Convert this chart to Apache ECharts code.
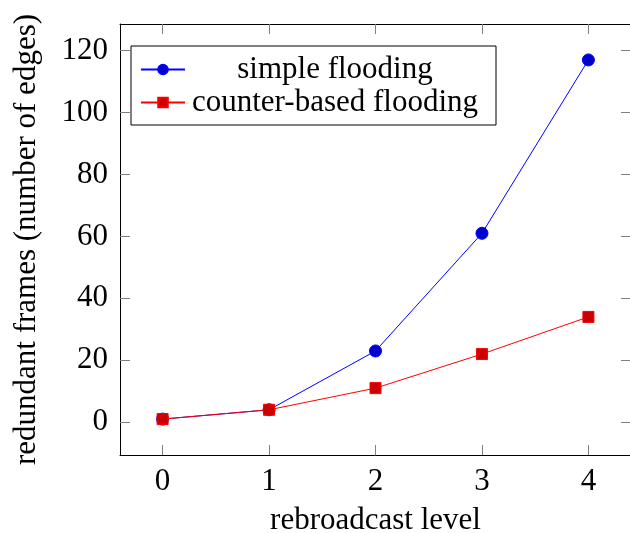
<!DOCTYPE html>
<html>
<head>
<meta charset="utf-8">
<script src="https://cdn.jsdelivr.net/npm/echarts@6/dist/echarts.min.js"></script>
<style>
  html, body { margin: 0; padding: 0; background: #fff; overflow: hidden; }
  #chart { width: 630px; height: 533px; }
</style>
</head>
<body>
<div id="chart"></div>
<script>
// Rebroadcast levels and the redundant frames counted at each level
const levels = [0, 1, 2, 3, 4];
const simpleFlooding = [1, 4, 23, 61, 117];
const counterBasedFlooding = [1, 4, 11, 22, 34];
const xTicks = [0, 1, 2, 3, 4];
const yTicks = [0, 20, 40, 60, 80, 100, 120];
const seriesNames = ['simple flooding', 'counter-based flooding'];

const FONT = 'Liberation Serif';
const FS = 31;
const tickStyle = { show: true, inside: true, length: 10, lineStyle: { color: '#808080', width: 1 } };

function pairs(xs, ys) {
  return xs.map((x, i) => [x, ys[i]]);
}

const chart = echarts.init(document.getElementById('chart'), null, { renderer: 'canvas' });

chart.setOption({
  animation: false,
  backgroundColor: '#ffffff',
  grid: {
    left: 120, top: 24, right: -1, bottom: 78,
    show: false, containLabel: false, outerBoundsMode: 'none'
  },
  legend: {
    orient: 'vertical',
    left: 131,
    top: 46,
    padding: [8, 16, 7, 9],
    itemGap: 2,
    itemWidth: 44,
    itemHeight: 12,
    backgroundColor: '#ffffff',
    borderColor: '#000000',
    borderWidth: 1,
    borderRadius: 0,
    data: seriesNames,
    formatter: name => '{t|' + name + '}',
    textStyle: {
      rich: {
        t: { width: 290, align: 'center', fontFamily: FONT, fontSize: FS, lineHeight: 34, color: '#000' }
      }
    }
  },
  xAxis: [
    {
      type: 'value', min: -0.4, max: 4.4, position: 'bottom',
      name: 'rebroadcast level', nameLocation: 'middle', nameGap: 50,
      nameTextStyle: { fontFamily: FONT, fontSize: FS, color: '#000' },
      axisLine: { show: true, onZero: false, lineStyle: { color: '#000', width: 1 } },
      axisTick: Object.assign({ customValues: xTicks }, tickStyle),
      axisLabel: { customValues: xTicks, margin: 11, fontFamily: FONT, fontSize: FS, color: '#000' },
      splitLine: { show: false }
    },
    {
      type: 'value', min: -0.4, max: 4.4, position: 'top',
      axisLine: { show: true, onZero: false, lineStyle: { color: '#000', width: 1 } },
      axisTick: Object.assign({ customValues: xTicks }, tickStyle),
      axisLabel: { show: false },
      splitLine: { show: false }
    }
  ],
  yAxis: [
    {
      type: 'value', min: -10.6, max: 128.6, position: 'left',
      name: 'redundant frames (number of edges)', nameLocation: 'middle', nameGap: 78,
      nameTextStyle: { fontFamily: FONT, fontSize: FS, color: '#000' },
      axisLine: { show: true, onZero: false, lineStyle: { color: '#000', width: 1 } },
      axisTick: Object.assign({ customValues: yTicks }, tickStyle),
      axisLabel: { customValues: yTicks, margin: 12, fontFamily: FONT, fontSize: FS, color: '#000' },
      splitLine: { show: false }
    },
    {
      type: 'value', min: -10.6, max: 128.6, position: 'right',
      axisLine: { show: true, onZero: false, lineStyle: { color: '#000', width: 1 } },
      axisTick: Object.assign({ customValues: yTicks }, tickStyle),
      axisLabel: { show: false },
      splitLine: { show: false }
    }
  ],
  series: [
    {
      name: seriesNames[0],
      type: 'line',
      data: pairs(levels, simpleFlooding),
      symbol: 'circle',
      symbolSize: 12,
      lineStyle: { color: '#0000ff', width: 1 },
      itemStyle: { color: '#0000cc', borderColor: '#0000ff', borderWidth: 1 },
      z: 2
    },
    {
      name: seriesNames[1],
      type: 'line',
      data: pairs(levels, counterBasedFlooding),
      symbol: 'rect',
      symbolSize: 11,
      lineStyle: { color: '#ff0000', width: 1 },
      itemStyle: { color: '#cc0000', borderColor: '#ff0000', borderWidth: 1 },
      z: 3
    }
  ]
});
</script>
</body>
</html>
